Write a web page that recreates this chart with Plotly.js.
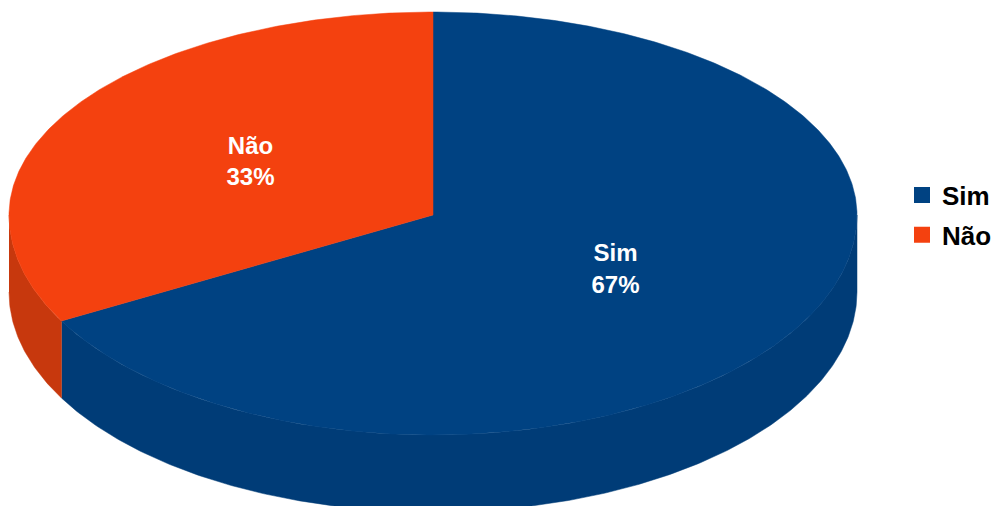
<!DOCTYPE html>
<html>
<head>
<meta charset="utf-8">
<script src="https://cdn.plot.ly/plotly-3.0.1.min.js"></script>
<style>html,body{margin:0;padding:0;background:#fff;}#chart{width:993px;height:506px;}</style>
</head>
<body>
<div id="chart"></div>
<script>
// ---- data ----
const labels = ['Sim', 'Não'];
const values = [67, 33];
const topColors = ['#004282', '#f4410f'];
const sideColors = ['#003c77', '#c7380d'];

// ---- geometry (style) ----
const W = 993, H = 506;
const cx = 433, cy = 215, rx = 424, ryTop = 203, ryBottom = 220, depth = 77;
const rad = d => d * Math.PI / 180;

function pt(thetaDeg, dz) {
  const t = rad(thetaDeg);
  const s = Math.sin(t);
  const ry = s > 0 ? ryTop : ryBottom;
  return [cx + rx * Math.cos(t), cy - ry * s + dz];
}
function arc(a, b, dz) {
  const n = Math.max(2, Math.ceil(Math.abs(b - a) / 0.5));
  const xs = [], ys = [];
  for (let i = 0; i <= n; i++) {
    const p = pt(a + (b - a) * i / n, dz);
    xs.push(p[0]); ys.push(p[1]);
  }
  return [xs, ys];
}

const total = values.reduce((s, v) => s + v, 0);
const traces = [];
const tops = [];
const textX = [], textY = [], textS = [];
let cum = 0;
values.forEach((v, i) => {
  const start = 90 - cum / total * 360;
  const end = 90 - (cum + v) / total * 360;
  cum += v;
  const lo = Math.min(start, end), hi = Math.max(start, end);
  // front side faces: where sin < 0
  for (let k = -2; k <= 1; k++) {
    const fLo = -180 + 360 * k, fHi = 360 * k;
    const a = Math.max(lo, fLo), b = Math.min(hi, fHi);
    if (b > a) {
      const topA = arc(a, b, 0);
      const botA = arc(b, a, depth);
      traces.push({
        type: 'scatter', mode: 'lines', fill: 'toself',
        x: topA[0].concat(botA[0]), y: topA[1].concat(botA[1]),
        fillcolor: sideColors[i], line: {width: 0.5, color: sideColors[i]},
        hoverinfo: 'skip', showlegend: false
      });
    }
  }
  // top face
  const ta = arc(start, end, 0);
  tops.push({
    type: 'scatter', mode: 'lines', fill: 'toself',
    x: [cx].concat(ta[0]).concat([cx]), y: [cy].concat(ta[1]).concat([cy]),
    fillcolor: topColors[i], line: {width: 0.5, color: topColors[i]},
    hoverinfo: 'skip', showlegend: false
  });
  const mid = (start + end) / 2;
  const t = rad(mid);
  const s = Math.sin(t);
  textX.push(cx + rx * 0.5 * Math.cos(t));
  textY.push(cy - (s > 0 ? ryTop : ryBottom) * 0.5 * s);
  textS.push(labels[i] + '<br>' + Math.round(v / total * 100) + '%');
});

const labelTrace = {
  type: 'scatter', mode: 'text', x: textX, y: textY, text: textS,
  textposition: 'middle center',
  textfont: {family: 'Liberation Sans, Arial, sans-serif', size: 24, color: '#ffffff', weight: 'bold'},
  hoverinfo: 'skip', showlegend: false
};

const legendTraces = labels.map((l, i) => ({
  type: 'scatter', mode: 'markers', x: [null], y: [null], name: l,
  legendgroup: 'g' + i,
  marker: {symbol: 'square', size: 16, color: topColors[i]}
}));

const data = traces.concat(tops).concat([labelTrace]).concat(legendTraces);

const layout = {
  width: W, height: H,
  margin: {l: 0, r: 0, t: 0, b: 0, autoexpand: false},
  paper_bgcolor: '#ffffff', plot_bgcolor: '#ffffff',
  xaxis: {range: [0, W], visible: false, fixedrange: true},
  yaxis: {range: [H, 0], visible: false, fixedrange: true},
  showlegend: true,
  legend: {
    x: 902 / W, xanchor: 'left', y: 1 - 215 / H, yanchor: 'middle',
    tracegroupgap: 3,
    font: {family: 'Liberation Sans, Arial, sans-serif', size: 26, color: '#000000', weight: 'bold'},
    bgcolor: 'rgba(0,0,0,0)'
  }
};

Plotly.newPlot('chart', data, layout, {displayModeBar: false, staticPlot: true});
</script>
</body>
</html>
